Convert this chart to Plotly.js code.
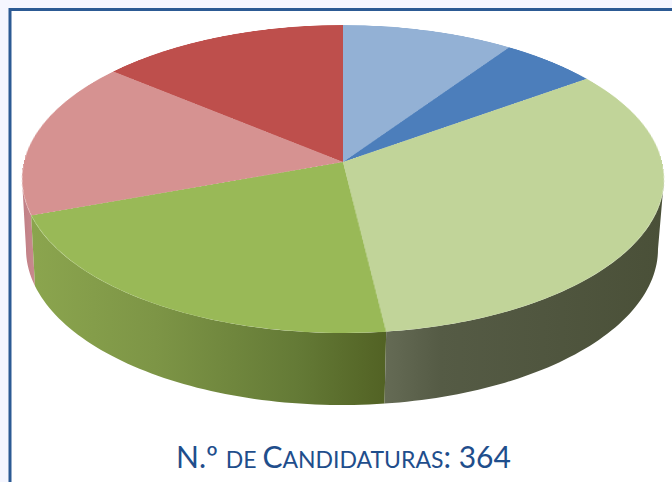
<!DOCTYPE html>
<html><head><meta charset="utf-8">
<script src="https://cdn.plot.ly/plotly-3.0.1.min.js"></script>
<style>
html,body{margin:0;padding:0;width:672px;height:482px;overflow:hidden;background:#f5f6ff}
#base{position:absolute;left:0;top:0;width:672px;height:482px}
#top{position:absolute;width:640px;height:640px;left:23px;top:-158px;transform-origin:50% 50%}
</style></head><body>
<div id="base"></div><div id="top"></div>
<script>
const categories = ["Categoría 1","Categoría 2","Categoría 3","Categoría 4","Categoría 5","Categoría 6"];
const values = [35,20,120,78,60,51];
const faceColors = ["#93b1d5","#4c7ebb","#c1d499","#99b957","#d69291","#be4f4c"];
const wallStops = {
  lightGreen: [[0,"#656b55"],[0.2,"#555b45"],[1,"#4a5038"]],
  green: [[0,"#8ba54e"],[0.35,"#7d9546"],[0.75,"#647a36"],[1,"#526224"]],
  pink: [[0,"#c07f86"],[1,"#c98a8e"]]
};
const captionColor = "#1f4e8c";

// projection of the pie disc: apex at (343,162)
const cx=343, cy=162, R=320, A=319, H=152.1, k=0.1105;
document.getElementById('top').style.transform =
  `matrix3d(${A/R},0,0,0, 0,${H/R},0,${-k/R}, 0,0,1,0, 0,0,0,1)`;

function rim(deg){
  const t=deg*Math.PI/180, U=Math.sin(t), V=Math.cos(t), w=1+k*V;
  return [cx+A*U/w, cy-H*V/w];
}
// ellipse parameter of a rim angle, then the lower edge of the wall
const E={cx:343,cy:179,a:321,b:154}, B={cx:342,cy:249,a:316,b:156};
function phi(deg){const p=rim(deg);return Math.atan2((p[0]-E.cx)/E.a,(E.cy-p[1])/E.b);}
function wall(p0,p1,stops){
  const xs=[],ys=[],n=60;
  for(let i=0;i<=n;i++){const f=p0+(p1-p0)*i/n;xs.push(E.cx+E.a*Math.sin(f));ys.push(E.cy-E.b*Math.cos(f));}
  for(let i=n;i>=0;i--){const f=p0+(p1-p0)*i/n;xs.push(B.cx+B.a*Math.sin(f));ys.push(B.cy-B.b*Math.cos(f));}
  xs.push(xs[0]);ys.push(ys[0]);
  return {type:'scatter',mode:'none',x:xs,y:ys,fill:'toself',hoverinfo:'skip',
    fillgradient:{type:'horizontal',colorscale:stops}};
}
const total=values.reduce((a,b)=>a+b,0);
let acc=0; const edges=values.map(v=>{acc+=v;return acc*360/total;});
const seam=phi(edges[2]);            // light green | green
let seamP=seam<0?seam+2*Math.PI:seam;
let gp=phi(edges[3]); if(gp<0)gp+=2*Math.PI; // green | pink
const traces=[
  wall(gp,1.5*Math.PI,wallStops.pink),
  wall(seamP,gp,wallStops.green),
  wall(Math.PI/2,seamP,wallStops.lightGreen)
];
const hidden={visible:false,fixedrange:true};
Plotly.newPlot('base',traces,{
  width:672,height:482,margin:{l:0,r:0,t:0,b:0},showlegend:false,
  paper_bgcolor:'#f5f6ff',plot_bgcolor:'rgba(0,0,0,0)',
  xaxis:Object.assign({range:[0,672]},hidden),
  yaxis:Object.assign({range:[482,0]},hidden),
  shapes:[{type:'rect',xref:'x',yref:'y',x0:10,y0:9.5,x1:720,y1:540,line:{color:'#2c5a94',width:3},fillcolor:'#ffffff',layer:'below'}],
  annotations:[{xref:'x',yref:'y',x:343,y:456,showarrow:false,xanchor:'center',yanchor:'middle',
    font:{family:'Lato, "Open Sans", sans-serif',size:30,color:captionColor},
    text:'N.º <span style="font-size:23px">DE </span>C<span style="font-size:23px">ANDIDATURAS</span>: 364'}]
},{staticPlot:true,displayModeBar:false});
Plotly.newPlot('top',[{type:'pie',labels:categories,values:values,sort:false,direction:'clockwise',rotation:0,
  marker:{colors:faceColors,line:{width:0}},textinfo:'none',hoverinfo:'skip',domain:{x:[0,1],y:[0,1]}}],
  {width:640,height:640,margin:{l:0,r:0,t:0,b:0,pad:0},showlegend:false,paper_bgcolor:'rgba(0,0,0,0)'},
  {staticPlot:true,displayModeBar:false});
</script></body></html>
